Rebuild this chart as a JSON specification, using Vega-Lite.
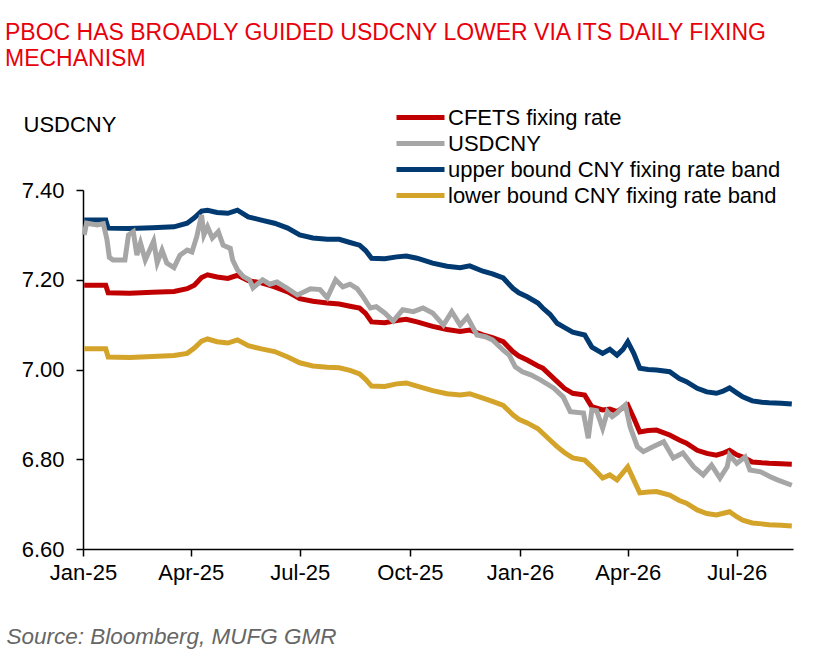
{
  "$schema": "https://vega.github.io/schema/vega-lite/v6.json",
  "width": 710,
  "height": 359,
  "autosize": "none",
  "padding": {"left": 83, "top": 190, "right": 44, "bottom": 110},
  "title": {
    "text": ["PBOC HAS BROADLY GUIDED USDCNY LOWER VIA ITS DAILY FIXING", "MECHANISM"],
    "anchor": "start",
    "frame": "group",
    "dx": -78,
    "offset": 32,
    "font": "Liberation Sans",
    "fontSize": 23,
    "fontWeight": "normal",
    "lineHeight": 26,
    "color": "#E8000B"
  },
  "datasets": {
    "bands": [
      {"d": "2025-01-02", "fix": 7.188, "upper": 7.333, "lower": 7.046},
      {"d": "2025-01-20", "fix": 7.188, "upper": 7.333, "lower": 7.046},
      {"d": "2025-01-22", "fix": 7.171, "upper": 7.315, "lower": 7.028},
      {"d": "2025-02-09", "fix": 7.170, "upper": 7.314, "lower": 7.027},
      {"d": "2025-02-28", "fix": 7.172, "upper": 7.316, "lower": 7.029},
      {"d": "2025-03-18", "fix": 7.174, "upper": 7.318, "lower": 7.031},
      {"d": "2025-03-29", "fix": 7.180, "upper": 7.326, "lower": 7.036},
      {"d": "2025-04-04", "fix": 7.188, "upper": 7.338, "lower": 7.048},
      {"d": "2025-04-10", "fix": 7.205, "upper": 7.353, "lower": 7.063},
      {"d": "2025-04-15", "fix": 7.211, "upper": 7.355, "lower": 7.068},
      {"d": "2025-04-23", "fix": 7.206, "upper": 7.350, "lower": 7.062},
      {"d": "2025-05-02", "fix": 7.203, "upper": 7.348, "lower": 7.059},
      {"d": "2025-05-10", "fix": 7.210, "upper": 7.355, "lower": 7.066},
      {"d": "2025-05-19", "fix": 7.198, "upper": 7.340, "lower": 7.053},
      {"d": "2025-05-30", "fix": 7.193, "upper": 7.333, "lower": 7.046},
      {"d": "2025-06-10", "fix": 7.184, "upper": 7.326, "lower": 7.040},
      {"d": "2025-06-21", "fix": 7.173, "upper": 7.315, "lower": 7.028},
      {"d": "2025-07-01", "fix": 7.158, "upper": 7.300, "lower": 7.015},
      {"d": "2025-07-12", "fix": 7.152, "upper": 7.293, "lower": 7.008},
      {"d": "2025-07-24", "fix": 7.148, "upper": 7.290, "lower": 7.005},
      {"d": "2025-08-03", "fix": 7.146, "upper": 7.290, "lower": 7.004},
      {"d": "2025-08-12", "fix": 7.141, "upper": 7.283, "lower": 6.998},
      {"d": "2025-08-20", "fix": 7.137, "upper": 7.277, "lower": 6.990},
      {"d": "2025-08-25", "fix": 7.125, "upper": 7.265, "lower": 6.978},
      {"d": "2025-08-30", "fix": 7.106, "upper": 7.248, "lower": 6.963},
      {"d": "2025-09-10", "fix": 7.104, "upper": 7.247, "lower": 6.962},
      {"d": "2025-09-20", "fix": 7.109, "upper": 7.251, "lower": 6.968},
      {"d": "2025-09-28", "fix": 7.112, "upper": 7.253, "lower": 6.970},
      {"d": "2025-10-07", "fix": 7.106, "upper": 7.248, "lower": 6.963},
      {"d": "2025-10-20", "fix": 7.096, "upper": 7.237, "lower": 6.953},
      {"d": "2025-11-01", "fix": 7.089, "upper": 7.230, "lower": 6.946},
      {"d": "2025-11-12", "fix": 7.085, "upper": 7.227, "lower": 6.943},
      {"d": "2025-11-20", "fix": 7.088, "upper": 7.231, "lower": 6.946},
      {"d": "2025-12-01", "fix": 7.077, "upper": 7.219, "lower": 6.936},
      {"d": "2025-12-09", "fix": 7.071, "upper": 7.213, "lower": 6.929},
      {"d": "2025-12-18", "fix": 7.062, "upper": 7.204, "lower": 6.920},
      {"d": "2025-12-26", "fix": 7.040, "upper": 7.181, "lower": 6.899},
      {"d": "2025-12-31", "fix": 7.030, "upper": 7.171, "lower": 6.889},
      {"d": "2026-01-07", "fix": 7.021, "upper": 7.162, "lower": 6.881},
      {"d": "2026-01-16", "fix": 7.008, "upper": 7.148, "lower": 6.868},
      {"d": "2026-01-20", "fix": 7.003, "upper": 7.137, "lower": 6.858},
      {"d": "2026-01-26", "fix": 6.988, "upper": 7.123, "lower": 6.843},
      {"d": "2026-02-01", "fix": 6.973, "upper": 7.103, "lower": 6.828},
      {"d": "2026-02-07", "fix": 6.958, "upper": 7.094, "lower": 6.815},
      {"d": "2026-02-14", "fix": 6.947, "upper": 7.083, "lower": 6.803},
      {"d": "2026-02-24", "fix": 6.943, "upper": 7.077, "lower": 6.798},
      {"d": "2026-03-02", "fix": 6.917, "upper": 7.050, "lower": 6.783},
      {"d": "2026-03-11", "fix": 6.910, "upper": 7.036, "lower": 6.758},
      {"d": "2026-03-17", "fix": 6.912, "upper": 7.045, "lower": 6.765},
      {"d": "2026-03-23", "fix": 6.906, "upper": 7.032, "lower": 6.754},
      {"d": "2026-03-28", "fix": 6.915, "upper": 7.045, "lower": 6.770},
      {"d": "2026-04-01", "fix": 6.921, "upper": 7.062, "lower": 6.783},
      {"d": "2026-04-06", "fix": 6.892, "upper": 7.036, "lower": 6.754},
      {"d": "2026-04-11", "fix": 6.861, "upper": 7.003, "lower": 6.725},
      {"d": "2026-04-18", "fix": 6.864, "upper": 7.000, "lower": 6.727},
      {"d": "2026-04-25", "fix": 6.865, "upper": 6.999, "lower": 6.728},
      {"d": "2026-05-06", "fix": 6.854, "upper": 6.995, "lower": 6.720},
      {"d": "2026-05-14", "fix": 6.843, "upper": 6.980, "lower": 6.708},
      {"d": "2026-05-20", "fix": 6.836, "upper": 6.973, "lower": 6.702},
      {"d": "2026-05-29", "fix": 6.820, "upper": 6.958, "lower": 6.687},
      {"d": "2026-06-06", "fix": 6.813, "upper": 6.950, "lower": 6.679},
      {"d": "2026-06-14", "fix": 6.809, "upper": 6.947, "lower": 6.676},
      {"d": "2026-06-19", "fix": 6.813, "upper": 6.951, "lower": 6.679},
      {"d": "2026-06-25", "fix": 6.820, "upper": 6.959, "lower": 6.683},
      {"d": "2026-07-01", "fix": 6.810, "upper": 6.948, "lower": 6.672},
      {"d": "2026-07-06", "fix": 6.805, "upper": 6.939, "lower": 6.664},
      {"d": "2026-07-14", "fix": 6.794, "upper": 6.930, "lower": 6.658},
      {"d": "2026-07-22", "fix": 6.792, "upper": 6.927, "lower": 6.656},
      {"d": "2026-07-28", "fix": 6.791, "upper": 6.926, "lower": 6.654},
      {"d": "2026-08-07", "fix": 6.790, "upper": 6.925, "lower": 6.653},
      {"d": "2026-08-16", "fix": 6.789, "upper": 6.923, "lower": 6.651}
    ],
    "spot": [
      {"d": "2025-01-02", "v": 7.300},
      {"d": "2025-01-04", "v": 7.326},
      {"d": "2025-01-13", "v": 7.322},
      {"d": "2025-01-18", "v": 7.325},
      {"d": "2025-01-21", "v": 7.290},
      {"d": "2025-01-23", "v": 7.250},
      {"d": "2025-01-26", "v": 7.244},
      {"d": "2025-02-05", "v": 7.244},
      {"d": "2025-02-08", "v": 7.300},
      {"d": "2025-02-12", "v": 7.307},
      {"d": "2025-02-15", "v": 7.255},
      {"d": "2025-02-18", "v": 7.282},
      {"d": "2025-02-22", "v": 7.244},
      {"d": "2025-03-01", "v": 7.286},
      {"d": "2025-03-04", "v": 7.238},
      {"d": "2025-03-08", "v": 7.266},
      {"d": "2025-03-12", "v": 7.237},
      {"d": "2025-03-18", "v": 7.227},
      {"d": "2025-03-23", "v": 7.255},
      {"d": "2025-03-29", "v": 7.266},
      {"d": "2025-04-02", "v": 7.262},
      {"d": "2025-04-06", "v": 7.296},
      {"d": "2025-04-10", "v": 7.344},
      {"d": "2025-04-12", "v": 7.300},
      {"d": "2025-04-15", "v": 7.318},
      {"d": "2025-04-19", "v": 7.293},
      {"d": "2025-04-24", "v": 7.307},
      {"d": "2025-04-28", "v": 7.277},
      {"d": "2025-05-04", "v": 7.270},
      {"d": "2025-05-06", "v": 7.244},
      {"d": "2025-05-10", "v": 7.222},
      {"d": "2025-05-15", "v": 7.207},
      {"d": "2025-05-20", "v": 7.200},
      {"d": "2025-05-23", "v": 7.182},
      {"d": "2025-05-31", "v": 7.200},
      {"d": "2025-06-06", "v": 7.190},
      {"d": "2025-06-12", "v": 7.195},
      {"d": "2025-06-20", "v": 7.182},
      {"d": "2025-06-29", "v": 7.166},
      {"d": "2025-07-04", "v": 7.172},
      {"d": "2025-07-10", "v": 7.180},
      {"d": "2025-07-18", "v": 7.178},
      {"d": "2025-07-24", "v": 7.160},
      {"d": "2025-07-31", "v": 7.200},
      {"d": "2025-08-06", "v": 7.184},
      {"d": "2025-08-12", "v": 7.190},
      {"d": "2025-08-18", "v": 7.180},
      {"d": "2025-08-23", "v": 7.162},
      {"d": "2025-08-29", "v": 7.137},
      {"d": "2025-09-03", "v": 7.140},
      {"d": "2025-09-10", "v": 7.126},
      {"d": "2025-09-17", "v": 7.108},
      {"d": "2025-09-25", "v": 7.133},
      {"d": "2025-10-04", "v": 7.129},
      {"d": "2025-10-12", "v": 7.137},
      {"d": "2025-10-20", "v": 7.126},
      {"d": "2025-10-29", "v": 7.099},
      {"d": "2025-11-05", "v": 7.129},
      {"d": "2025-11-12", "v": 7.099},
      {"d": "2025-11-18", "v": 7.117},
      {"d": "2025-11-26", "v": 7.077},
      {"d": "2025-12-03", "v": 7.073},
      {"d": "2025-12-09", "v": 7.066},
      {"d": "2025-12-18", "v": 7.043},
      {"d": "2025-12-23", "v": 7.032},
      {"d": "2025-12-28", "v": 7.006},
      {"d": "2026-01-03", "v": 6.995},
      {"d": "2026-01-10", "v": 6.988},
      {"d": "2026-01-18", "v": 6.977},
      {"d": "2026-01-29", "v": 6.959},
      {"d": "2026-02-06", "v": 6.939},
      {"d": "2026-02-12", "v": 6.906},
      {"d": "2026-02-23", "v": 6.903},
      {"d": "2026-02-27", "v": 6.847},
      {"d": "2026-03-02", "v": 6.910},
      {"d": "2026-03-06", "v": 6.908},
      {"d": "2026-03-11", "v": 6.869},
      {"d": "2026-03-15", "v": 6.906},
      {"d": "2026-03-19", "v": 6.895},
      {"d": "2026-03-23", "v": 6.903},
      {"d": "2026-03-27", "v": 6.914},
      {"d": "2026-03-30", "v": 6.921},
      {"d": "2026-04-03", "v": 6.872},
      {"d": "2026-04-09", "v": 6.828},
      {"d": "2026-04-14", "v": 6.817},
      {"d": "2026-04-22", "v": 6.828},
      {"d": "2026-05-01", "v": 6.839},
      {"d": "2026-05-09", "v": 6.803},
      {"d": "2026-05-17", "v": 6.814},
      {"d": "2026-05-26", "v": 6.783},
      {"d": "2026-06-03", "v": 6.765},
      {"d": "2026-06-10", "v": 6.787},
      {"d": "2026-06-17", "v": 6.758},
      {"d": "2026-06-23", "v": 6.783},
      {"d": "2026-06-25", "v": 6.809},
      {"d": "2026-07-01", "v": 6.791},
      {"d": "2026-07-08", "v": 6.805},
      {"d": "2026-07-12", "v": 6.776},
      {"d": "2026-07-21", "v": 6.772},
      {"d": "2026-07-29", "v": 6.761},
      {"d": "2026-08-04", "v": 6.754},
      {"d": "2026-08-16", "v": 6.742}
    ]
  },
  "encoding": {
    "x": {
      "field": "d",
      "type": "temporal",
      "scale": {
        "type": "utc",
        "domain": [
          {"year": 2025, "month": 1, "date": 1, "utc": true},
          {"year": 2026, "month": 8, "date": 17, "utc": true}
        ]
      },
      "axis": {
        "values": [
          {"year": 2025, "month": 1, "date": 1, "utc": true},
          {"year": 2025, "month": 4, "date": 1, "utc": true},
          {"year": 2025, "month": 7, "date": 1, "utc": true},
          {"year": 2025, "month": 10, "date": 1, "utc": true},
          {"year": 2026, "month": 1, "date": 1, "utc": true},
          {"year": 2026, "month": 4, "date": 1, "utc": true},
          {"year": 2026, "month": 7, "date": 1, "utc": true}
        ],
        "format": "%b-%y",
        "grid": false,
        "labelFlush": false,
        "labelOverlap": false,
        "labelPadding": 6,
        "title": "Source: Bloomberg, MUFG GMR",
        "titleFontStyle": "italic",
        "titleFontSize": 22.5,
        "titleColor": "#666666",
        "titleX": -77,
        "titleY": 94,
        "titleAlign": "left",
        "titleAnchor": "start",
        "titleBaseline": "alphabetic"
      }
    },
    "y": {
      "field": "v",
      "type": "quantitative",
      "scale": {"domain": [6.6, 7.4], "zero": false},
      "axis": {
        "values": [6.6, 6.8, 7.0, 7.2, 7.4],
        "format": ".2f",
        "grid": false,
        "labelPadding": 12,
        "title": "USDCNY",
        "titleAngle": 0,
        "titleX": -60,
        "titleY": -59,
        "titleAlign": "left",
        "titleBaseline": "alphabetic",
        "titleColor": "black"
      }
    }
  },
  "layer": [
    {
      "data": {"name": "bands"},
      "transform": [{"fold": ["fix", "upper", "lower"], "as": ["s", "v"]}],
      "mark": {"type": "line", "strokeWidth": 5},
      "encoding": {
        "color": {
          "field": "s",
          "type": "nominal",
          "scale": {
            "domain": ["fix", "spot", "upper", "lower"],
            "range": ["#C00000", "#A6A6A6", "#003A70", "#D4A42A"]
          },
          "legend": {
            "labelExpr": "{'fix': 'CFETS fixing rate', 'spot': 'USDCNY', 'upper': 'upper bound CNY fixing rate band', 'lower': 'lower bound CNY fixing rate band'}[datum.label]"
          }
        }
      }
    },
    {
      "data": {"name": "spot"},
      "mark": {"type": "line", "strokeWidth": 5},
      "encoding": {
        "color": {
          "datum": "spot",
          "type": "nominal",
          "scale": {
            "domain": ["fix", "spot", "upper", "lower"],
            "range": ["#C00000", "#A6A6A6", "#003A70", "#D4A42A"]
          }
        }
      }
    }
  ],
  "config": {
    "font": "Liberation Sans",
    "view": {"stroke": null},
    "axis": {
      "domainColor": "black",
      "domainWidth": 1.5,
      "tickColor": "black",
      "tickWidth": 1.5,
      "tickSize": 7,
      "labelFont": "Liberation Sans",
      "labelFontSize": 22,
      "labelColor": "black",
      "titleFont": "Liberation Sans",
      "titleFontSize": 22,
      "titleFontWeight": "normal"
    },
    "legend": {
      "orient": "none",
      "legendX": 323,
      "legendY": -87,
      "title": null,
      "symbolType": "M-2,0H2",
      "symbolStrokeWidth": 5,
      "symbolSize": 576,
      "labelFont": "Liberation Sans",
      "labelFontSize": 22,
      "labelColor": "black",
      "labelLimit": 0,
      "labelOffset": 13,
      "rowPadding": -1
    }
  }
}
